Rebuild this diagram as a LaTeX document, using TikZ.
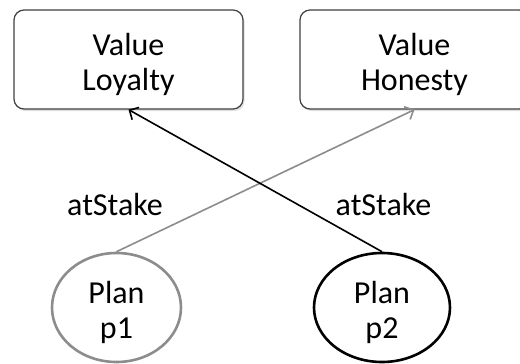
\documentclass[tikz,border=0pt]{standalone}
\usepackage{fontspec}
\setmainfont{Carlito}
\usetikzlibrary{arrows.meta,shapes.geometric,shadows}
\definecolor{boxgray}{HTML}{404040}
\definecolor{plangray}{HTML}{8C8C8C}
\begin{document}
\begin{tikzpicture}[x=1pt,y=-1pt,
  bigfont/.style={font=\fontsize{32}{35}\selectfont},
  valbox/.style={bigfont, draw=boxgray, line width=1.2pt, rounded corners=10pt,
    minimum width=229pt, minimum height=99pt, align=center, fill=white,
    drop shadow={opacity=0.25, shadow xshift=1.5pt, shadow yshift=-2pt}},
  planbase/.style={bigfont, ellipse, inner sep=0pt, align=center, line width=2.6pt,
    minimum height=109pt},
  planA/.style={planbase, draw=plangray, minimum width=129pt},
  planB/.style={planbase, draw=black, minimum width=136pt},
  lbl/.style={bigfont, anchor=base, inner sep=0pt},
  tip/.style={-{Straight Barb[length=7pt,width=14pt]}, line width=1.6pt}
]
\clip (0,0) rectangle (520,364);
\node[valbox] (loy) at (128.5,59.5) {\rule{0pt}{32pt}Value\\Loyalty};
\node[valbox] (hon) at (414.5,59.5) {\rule{0pt}{32pt}Value\\Honesty};
\node[planA] (p1) at (116.5,307.5) {\rule{0pt}{32pt}Plan\\p1};
\node[planB] (p2) at (382,307.5) {\rule{0pt}{32pt}Plan\\p2};
\draw[tip, draw=plangray] (p1.north) -- (hon.south);
\draw[tip, draw=black] (p2.north) -- (loy.south);
\node[lbl] (s1) at (115,215) {atStake};
\node[lbl] (s2) at (383.5,215) {atStake};
\end{tikzpicture}
\end{document}
